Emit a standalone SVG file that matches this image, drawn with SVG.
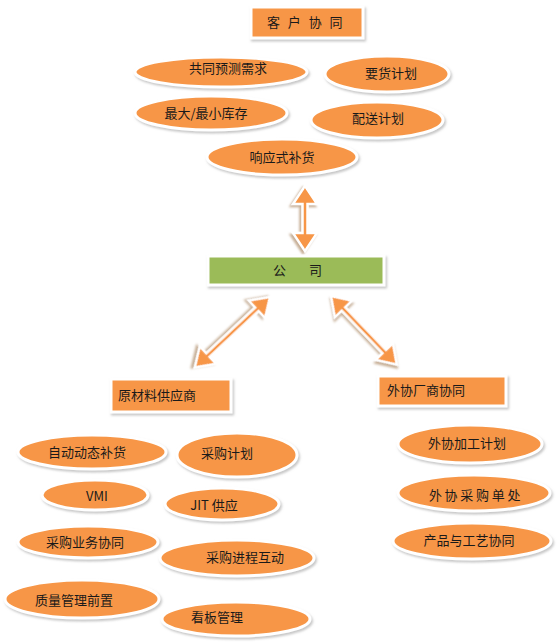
<svg xmlns="http://www.w3.org/2000/svg" width="560" height="642" viewBox="0 0 560 642">
<defs>
<filter id="sh" x="-20%" y="-40%" width="140%" height="180%">
<feDropShadow dx="1.5" dy="2" stdDeviation="1.2" flood-color="#9a9a9a" flood-opacity="0.55"/>
</filter>
<filter id="ash" x="-30%" y="-30%" width="160%" height="160%">
<feDropShadow dx="2" dy="2" stdDeviation="0.8" flood-color="#b89a7a" flood-opacity="0.8"/>
</filter>
</defs>
<style>
.el{fill:#F79646;stroke:#ffffff;stroke-width:3;filter:url(#sh)}
.bx{fill:#F79646;stroke:#ffffff;stroke-width:3;filter:url(#sh)}
.gb{fill:#9BBB59;stroke:#ffffff;stroke-width:3;filter:url(#sh)}
.ar{fill:#F79646;stroke:#ffffff;stroke-width:2.5;stroke-linejoin:miter;filter:url(#ash)}
text{font-family:"Noto Sans CJK SC","Liberation Sans",sans-serif;font-size:13px;fill:#1a1a1a;text-anchor:middle}
.l{text-anchor:start}
</style>
<rect width="560" height="642" fill="#ffffff"/>

<g id="connectors">
<polygon class="ar" transform="translate(305,186) rotate(90)" points="0,0 18,-12 18,-2.5 47,-2.5 47,-12 65,0 47,12 47,2.5 18,2.5 18,12"/>
<polygon class="ar" transform="translate(270,297) rotate(136.9)" points="0,0 18,-12 18,-2.5 85,-2.5 85,-12 103,0 85,12 85,2.5 18,2.5 18,12"/>
<polygon class="ar" transform="translate(331,296) rotate(46.2)" points="0,0 18,-12 18,-2.5 77,-2.5 77,-12 95,0 77,12 77,2.5 18,2.5 18,12"/>
</g>

<g id="n-kehu"><rect class="bx" x="251" y="7" width="112" height="31"/><text x="306" y="27" style="letter-spacing:2.5px">客 户 协 同</text></g>
<g id="n-e1"><ellipse class="el" cx="221" cy="72" rx="86" ry="15"/><text x="228" y="73">共同预测需求</text></g>
<g id="n-e2"><ellipse class="el" cx="211" cy="113" rx="76" ry="17"/><text x="206" y="118">最大/最小库存</text></g>
<g id="n-e3"><ellipse class="el" cx="282" cy="157" rx="75" ry="18"/><text x="282" y="162">响应式补货</text></g>
<g id="n-e4"><ellipse class="el" cx="387" cy="74" rx="62" ry="18"/><text x="391" y="78">要货计划</text></g>
<g id="n-e5"><ellipse class="el" cx="377" cy="120" rx="66" ry="18"/><text x="378" y="123">配送计划</text></g>

<g id="n-company"><rect class="gb" x="208" y="256" width="176" height="29"/><text x="300" y="275" style="letter-spacing:5px">公　司</text></g>

<g id="n-supplier"><rect class="bx" x="111" y="379" width="120" height="33"/><text class="l" x="118" y="400">原材料供应商</text></g>
<g id="n-outsource"><rect class="bx" x="378" y="376" width="128" height="30"/><text class="l" x="387" y="395">外协厂商协同</text></g>

<g id="n-s1"><ellipse class="el" cx="92" cy="452" rx="74" ry="17"/><text x="87" y="457">自动动态补货</text></g>
<g id="n-s2"><ellipse class="el" cx="237" cy="455" rx="60" ry="22"/><text x="227" y="458">采购计划</text></g>
<g id="n-s3"><ellipse class="el" cx="95" cy="495" rx="53" ry="15"/><text x="97" y="501">VMI</text></g>
<g id="n-s4"><ellipse class="el" cx="222" cy="504" rx="57" ry="16"/><text x="214" y="510">JIT 供应</text></g>
<g id="n-s5"><ellipse class="el" cx="88" cy="542" rx="70" ry="16"/><text x="85" y="547">采购业务协同</text></g>
<g id="n-s6"><ellipse class="el" cx="237" cy="558" rx="77" ry="18"/><text x="245" y="562">采购进程互动</text></g>
<g id="n-s7"><ellipse class="el" cx="82" cy="599" rx="77" ry="19"/><text x="74" y="605">质量管理前置</text></g>
<g id="n-s8"><ellipse class="el" cx="236" cy="619" rx="74" ry="17"/><text x="217" y="622">看板管理</text></g>

<g id="n-o1"><ellipse class="el" cx="470" cy="444" rx="72" ry="19"/><text x="467" y="448">外协加工计划</text></g>
<g id="n-o2"><ellipse class="el" cx="474" cy="493" rx="76" ry="18"/><text x="476" y="500" style="letter-spacing:2.7px">外协采购单处</text></g>
<g id="n-o3"><ellipse class="el" cx="472" cy="541" rx="79" ry="18"/><text x="469" y="545">产品与工艺协同</text></g>
</svg>
